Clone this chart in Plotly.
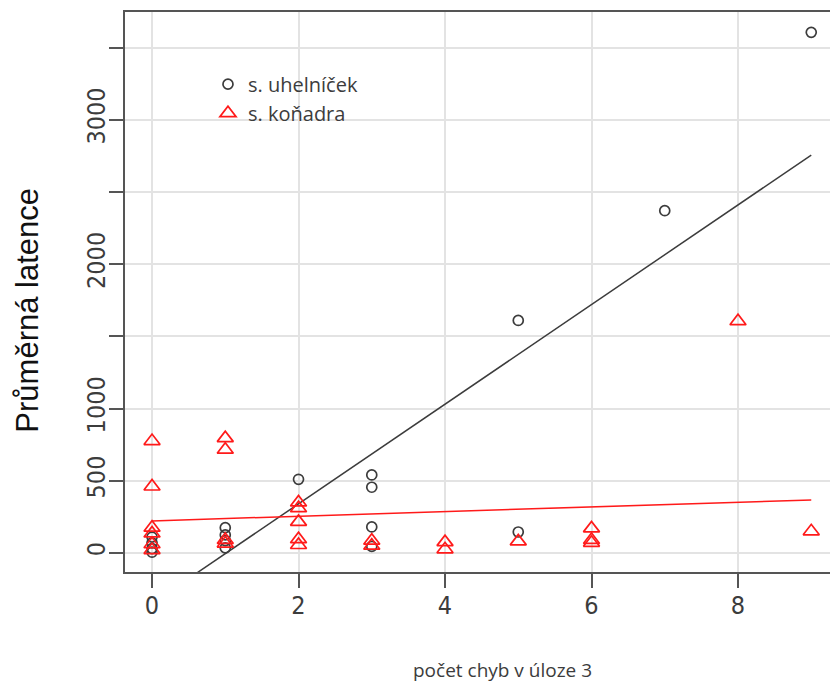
import numpy as np
import plotly.graph_objects as go

# s. uhelníček (černé kroužky)
uh_x = [0, 0, 0, 0, 1, 1, 1, 1, 2, 3, 3, 3, 3, 5, 5, 7, 9]
uh_y = [110, 70, 30, 5, 175, 125, 85, 35, 510, 540, 455, 180, 45, 1610, 145, 2370, 3605]

# s. koňadra (červené trojúhelníky)
ko_x = [0, 0, 0, 0, 0, 0, 1, 1, 1, 1, 2, 2, 2, 2, 2, 3, 3, 4, 4, 5, 6, 6, 6, 8, 9]
ko_y = [775, 460, 175, 135, 60, 20, 795, 715, 90, 65, 350, 310, 215, 95, 55, 85, 50, 75, 25, 80, 170, 90, 70, 1605, 150]

# lineární regrese: (intercept, slope)
uh_fit = (-350.0, 345.0)
ko_fit = (222.0, 16.1)

x_ticks = [0, 2, 4, 6, 8]
y_ticks = [0, 500, 1000, 1500, 2000, 2500, 3000, 3500]
y_ticklabels = ["0", "500", "1000", "", "2000", "", "3000", ""]

series_names = ["s. uhelníček", "s. koňadra"]
x_title = "počet chyb v úloze 3"
y_title = "Průměrná latence"

DARK = "#3c3c3c"
RED = "#ff1a1a"
GRID = "#e3e3e3"
TICK_FONT = "Liberation Sans Narrow, DejaVu Sans Condensed, Arial Narrow, sans-serif"
TEXT_FONT = "Open Sans, Noto Sans, sans-serif"


def fit_line(xs, coef):
    xx = np.array([min(xs), max(xs)], dtype=float)
    return xx, coef[0] + coef[1] * xx


fig = go.Figure()

lx, ly = fit_line(uh_x, uh_fit)
fig.add_trace(go.Scatter(x=lx, y=ly, mode="lines", line=dict(color=DARK, width=1.5),
                         showlegend=False, hoverinfo="skip"))
lx, ly = fit_line(ko_x, ko_fit)
fig.add_trace(go.Scatter(x=lx, y=ly, mode="lines", line=dict(color=RED, width=1.5),
                         showlegend=False, hoverinfo="skip"))

fig.add_trace(go.Scatter(
    x=uh_x, y=uh_y, mode="markers", name=series_names[0],
    marker=dict(symbol="circle-open", size=10, color=DARK, line=dict(width=1.7, color=DARK)),
))
fig.add_trace(go.Scatter(
    x=ko_x, y=ko_y, mode="markers", name=series_names[1],
    marker=dict(symbol="triangle-up-open", size=14, color=RED, line=dict(width=1.7, color=RED)),
))

# white panel behind the legend, above the grid
fig.add_shape(type="rect", xref="paper", yref="paper",
              x0=0.085, x1=0.411, y0=0.780, y1=0.923,
              fillcolor="white", line=dict(width=0), layer="between")

fig.add_annotation(text=x_title, xref="paper", yref="paper", x=0.535, y=-0.175,
                   xanchor="center", yanchor="middle", showarrow=False,
                   font=dict(family=TEXT_FONT, size=19, color=DARK))
fig.add_annotation(text=y_title, xref="paper", yref="paper", x=-0.138, y=0.468,
                   xanchor="center", yanchor="middle", showarrow=False, textangle=-90,
                   font=dict(family="Liberation Sans, Arial, sans-serif", size=31, color="#111111"))

fig.update_layout(
    width=830, height=684,
    margin=dict(l=125, r=0, t=12, b=112),
    paper_bgcolor="white", plot_bgcolor="white",
    showlegend=True,
    legend=dict(x=0.1177, y=0.906, xanchor="left", yanchor="top",
                bgcolor="rgba(0,0,0,0)", borderwidth=0,
                font=dict(family=TEXT_FONT, size=20, color=DARK)),
)

fig.update_xaxes(
    range=[-0.369, 9.256], tickvals=x_ticks, ticktext=[str(v) for v in x_ticks],
    showgrid=True, gridcolor=GRID, gridwidth=2, zeroline=False,
    showline=True, linecolor="#555555", linewidth=2, mirror=True,
    ticks="outside", ticklen=14, tickwidth=2, tickcolor="#555555",
    ticklabelstandoff=-4,
    tickfont=dict(family=TICK_FONT, size=25, color=DARK),
)
fig.update_yaxes(
    range=[-132, 3746], tickvals=y_ticks, ticktext=y_ticklabels, tickangle=-90,
    showgrid=True, gridcolor=GRID, gridwidth=2, zeroline=False,
    showline=True, linecolor="#555555", linewidth=2, mirror=False,
    ticks="outside", ticklen=14, tickwidth=2, tickcolor="#555555",
    ticklabelstandoff=-6,
    tickfont=dict(family=TICK_FONT, size=25, color=DARK),
)

fig.write_html("out.html")
